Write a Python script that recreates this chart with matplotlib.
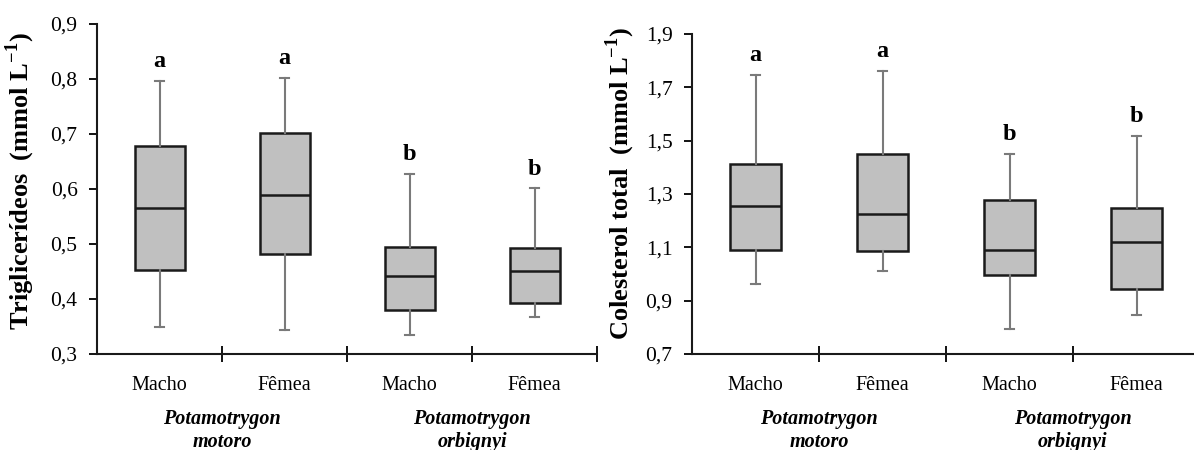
import numpy as np
import matplotlib
matplotlib.use("Agg")
import matplotlib.pyplot as plt
from matplotlib.ticker import FuncFormatter

plt.rcParams['font.family'] = ['Liberation Serif', 'DejaVu Serif']
plt.rcParams['mathtext.fontset'] = 'custom'
plt.rcParams['mathtext.rm'] = 'Liberation Serif:bold'
plt.rcParams['mathtext.bf'] = 'Liberation Serif:bold'

# categories
sexes = ["Macho", "Fêmea", "Macho", "Fêmea"]
species = ["Potamotrygon\nmotoro", "Potamotrygon\norbignyi"]

# Triglicerídeos (mmol/L): whisker low, q1, median, q3, whisker high
tg_low = [0.349, 0.344, 0.334, 0.367]
tg_q1 = [0.452, 0.481, 0.380, 0.392]
tg_med = [0.565, 0.589, 0.442, 0.451]
tg_q3 = [0.679, 0.702, 0.495, 0.492]
tg_high = [0.796, 0.802, 0.628, 0.601]
tg_letters = ["a", "a", "b", "b"]

# Colesterol total (mmol/L)
ct_low = [0.961, 1.010, 0.794, 0.845]
ct_q1 = [1.089, 1.085, 0.995, 0.943]
ct_med = [1.256, 1.226, 1.089, 1.120]
ct_q3 = [1.414, 1.450, 1.277, 1.246]
ct_high = [1.745, 1.762, 1.451, 1.516]
ct_letters = ["a", "a", "b", "b"]

fig = plt.figure(figsize=(11.94, 4.5), dpi=100)
ax1 = fig.add_axes([97/1194, 96/450, 500/1194, 330/450])
ax2 = fig.add_axes([692/1194, 96/450, 508/1194, 320/450])

comma = FuncFormatter(lambda v, p: f"{v:.1f}".replace(".", ","))


def panel(ax, low, q1, med, q3, high, letters, ylim, step, ylabel, lab_xy):
    stats = [dict(whislo=a, q1=b, med=c, q3=d, whishi=e, fliers=[])
             for a, b, c, d, e in zip(low, q1, med, q3, high)]
    pos = np.arange(1, len(stats) + 1)
    ax.bxp(stats, positions=pos, widths=0.4, capwidths=0.075,
           showfliers=False, patch_artist=True,
           boxprops=dict(facecolor="#c0c0c0", edgecolor="#1a1a1a", linewidth=1.8),
           medianprops=dict(color="#1a1a1a", linewidth=1.8),
           whiskerprops=dict(color="#7a7a7a", linewidth=1.5),
           capprops=dict(color="#7a7a7a", linewidth=1.5))
    ax.set_xlim(0.5, 4.5)
    ax.set_ylim(*ylim)
    ax.set_yticks(np.arange(ylim[0], ylim[1] + step / 2, step))
    ax.yaxis.set_major_formatter(comma)
    ax.set_xticks(pos)
    ax.set_xticklabels(sexes, fontsize=14.5)
    ax.set_xticks(np.arange(1.5, 5.0, 1.0), minor=True)
    ax.tick_params(axis="x", which="major", length=0, pad=16)
    ax.tick_params(axis="x", which="minor", length=12, width=1.3, direction="inout")
    ax.tick_params(axis="y", length=6, width=1.3, labelsize=15.5, pad=8)
    for s in ["top", "right"]:
        ax.spines[s].set_visible(False)
    for s in ["left", "bottom"]:
        ax.spines[s].set_linewidth(1.5)
        ax.spines[s].set_color("#1a1a1a")
    for x, y, t in zip(pos, high, letters):
        ax.annotate(t, xy=(x, y), xytext=(0, 14), textcoords="offset points",
                    ha="center", va="center", fontsize=17.5, fontweight="bold")
    for x, t in zip([1.5, 3.5], species):
        ax.annotate(t, xy=(x, 0), xycoords=("data", "axes fraction"),
                    xytext=(0, -55), textcoords="offset points",
                    ha="center", va="center", fontsize=14.5, fontweight="bold",
                    fontstyle="italic", linespacing=1.2)
    ax.set_ylabel(ylabel, fontsize=19, fontweight="bold")
    ax.yaxis.set_label_coords(*lab_xy)


panel(ax1, tg_low, tg_q1, tg_med, tg_q3, tg_high, tg_letters, (0.3, 0.9), 0.1,
      r"Triglicerídeos  (mmol L$^{-1}$)", (-0.12, 0.524))
panel(ax2, ct_low, ct_q1, ct_med, ct_q3, ct_high, ct_letters, (0.7, 1.9), 0.2,
      r"Colesterol total  (mmol L$^{-1}$)", (-0.108, 0.533))

fig.savefig("out.png", dpi=100)
